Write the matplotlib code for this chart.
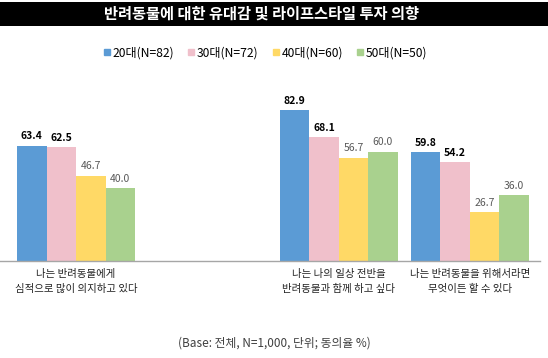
import numpy as np
import matplotlib
matplotlib.use('Agg')
import matplotlib.pyplot as plt
from matplotlib.patches import Rectangle
from matplotlib.lines import Line2D

plt.rcParams['font.family'] = ['Noto Sans CJK KR', 'DejaVu Sans']

# Data
TITLE = '반려동물에 대한 유대감 및 라이프스타일 투자 의향'
CATEGORIES = ['나는 반려동물에게\n심적으로 많이 의지하고 있다',
              '',
              '나는 나의 일상 전반을\n반려동물과 함께 하고 싶다',
              '나는 반려동물을 위해서라면\n무엇이든 할 수 있다']
SERIES = ['20대(N=82)', '30대(N=72)', '40대(N=60)', '50대(N=50)']
VALUES_20 = [63.4, np.nan, 82.9, 59.8]
VALUES_30 = [62.5, np.nan, 68.1, 54.2]
VALUES_40 = [46.7, np.nan, 56.7, 26.7]
VALUES_50 = [40.0, np.nan, 60.0, 36.0]
FOOTNOTE = '(Base: 전체, N=1,000, 단위; 동의율 %)'

COLORS = ['#5B9BD5', '#F0C0CB', '#FFD966', '#A9D18E']
LABEL_COLORS = ['#000000', '#000000', '#595959', '#595959']
LABEL_WEIGHTS = ['bold', 'bold', 'normal', 'normal']

W, H = 548, 358
fig = plt.figure(figsize=(W / 100, H / 100), dpi=100)

# Title bar
fig.patches.append(Rectangle((0, 1 - 26 / H), 1, 24 / H, transform=fig.transFigure,
                             facecolor='black', edgecolor='none', zorder=0))
fig.text(262 / W, 1 - 14 / H, TITLE, ha='center', va='center', color='white',
         fontsize=11, fontweight='bold')

# Plot area
ax = fig.add_axes([0 / W, 1 - 261 / H, 540 / W, (261 - 79) / H])
x = np.arange(len(CATEGORIES))
bar_w = 0.225
all_vals = [VALUES_20, VALUES_30, VALUES_40, VALUES_50]
for i, vals in enumerate(all_vals):
    pos = x + (i - 1.5) * bar_w
    ax.bar(pos, vals, width=bar_w, color=COLORS[i], label=SERIES[i])
    for px, v in zip(pos, vals):
        if np.isnan(v):
            continue
        ax.text(px, v + 2.5, f'{v:.1f}', ha='center', va='bottom', fontsize=7.5,
                color=LABEL_COLORS[i], fontweight=LABEL_WEIGHTS[i])

ax.set_xlim(-0.58, 3.534)
ax.set_ylim(0, 100)
ax.set_xticks(x)
ax.set_xticklabels(CATEGORIES, fontsize=7.5, color='#222222', linespacing=1.6)
ax.tick_params(axis='x', length=0, pad=6)
ax.set_yticks([])
for s in ['top', 'left', 'right']:
    ax.spines[s].set_visible(False)
ax.spines['bottom'].set_color('#A6A6A6')
ax.spines['bottom'].set_linewidth(1)

# Legend
handles = [Line2D([0], [0], marker='s', linestyle='none', markersize=5,
                  markerfacecolor=c, markeredgecolor=c) for c in COLORS]
fig.legend(handles, SERIES, loc='center', bbox_to_anchor=(265 / W, 1 - 53 / H), ncol=4,
           frameon=False, fontsize=8.7, handletextpad=0.1, columnspacing=1.1,
           handlelength=0.7)

fig.text(274 / W, 1 - 343 / H, FOOTNOTE, ha='center', va='center', fontsize=8.5,
         color='#404040')

fig.savefig('out.png', dpi=100)
